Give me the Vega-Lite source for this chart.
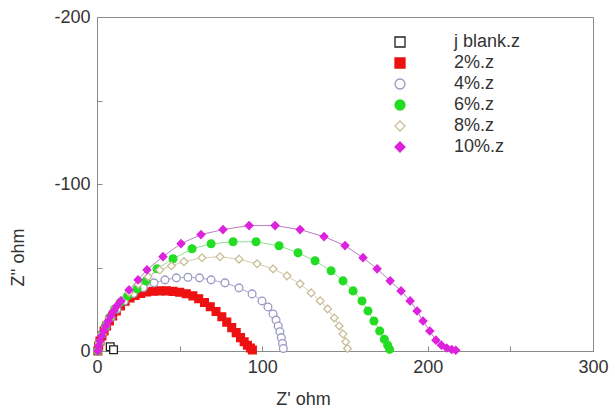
{
  "$schema": "https://vega.github.io/schema/vega-lite/v6.json",
  "autosize": "none",
  "width": 496,
  "height": 334,
  "padding": {"left": 97, "top": 17, "right": 22, "bottom": 63},
  "background": "white",
  "config": {
    "font": "Liberation Sans",
    "view": {"stroke": "#8a8a8a", "strokeWidth": 1}
  },
  "data": {
    "values": [
      {"s": "j blank.z", "x": 8, "y": -2.5},
      {"s": "j blank.z", "x": 10, "y": -0.8},

      {"s": "2%.z", "x": 0.5, "y": 0},
      {"s": "2%.z", "x": 1, "y": -3},
      {"s": "2%.z", "x": 1.8, "y": -6},
      {"s": "2%.z", "x": 3, "y": -9},
      {"s": "2%.z", "x": 4.3, "y": -12},
      {"s": "2%.z", "x": 5.8, "y": -15},
      {"s": "2%.z", "x": 7.5, "y": -18},
      {"s": "2%.z", "x": 9.5, "y": -21},
      {"s": "2%.z", "x": 11.7, "y": -24},
      {"s": "2%.z", "x": 14.2, "y": -27},
      {"s": "2%.z", "x": 17, "y": -29.8},
      {"s": "2%.z", "x": 20, "y": -31.8},
      {"s": "2%.z", "x": 23, "y": -33.3},
      {"s": "2%.z", "x": 26.5, "y": -34.5},
      {"s": "2%.z", "x": 30, "y": -35.3},
      {"s": "2%.z", "x": 34, "y": -35.8},
      {"s": "2%.z", "x": 38, "y": -36},
      {"s": "2%.z", "x": 42, "y": -36},
      {"s": "2%.z", "x": 46, "y": -35.7},
      {"s": "2%.z", "x": 50, "y": -35.2},
      {"s": "2%.z", "x": 54, "y": -34.3},
      {"s": "2%.z", "x": 58, "y": -33},
      {"s": "2%.z", "x": 61.5, "y": -31.3},
      {"s": "2%.z", "x": 65, "y": -29},
      {"s": "2%.z", "x": 68.5, "y": -26.5},
      {"s": "2%.z", "x": 72, "y": -23.6},
      {"s": "2%.z", "x": 75.5, "y": -20.5},
      {"s": "2%.z", "x": 78.5, "y": -17.3},
      {"s": "2%.z", "x": 81.5, "y": -14},
      {"s": "2%.z", "x": 84.2, "y": -11},
      {"s": "2%.z", "x": 86.8, "y": -8},
      {"s": "2%.z", "x": 89, "y": -5.5},
      {"s": "2%.z", "x": 91, "y": -3.5},
      {"s": "2%.z", "x": 92.8, "y": -1.8},
      {"s": "2%.z", "x": 94, "y": -0.6},

      {"s": "4%.z", "x": 0.5, "y": 0},
      {"s": "4%.z", "x": 1.5, "y": -5},
      {"s": "4%.z", "x": 3, "y": -10},
      {"s": "4%.z", "x": 5.5, "y": -15},
      {"s": "4%.z", "x": 8.5, "y": -20},
      {"s": "4%.z", "x": 12, "y": -25},
      {"s": "4%.z", "x": 16.5, "y": -30},
      {"s": "4%.z", "x": 22, "y": -34.5},
      {"s": "4%.z", "x": 28, "y": -38},
      {"s": "4%.z", "x": 34.5, "y": -40.8},
      {"s": "4%.z", "x": 41.1, "y": -42.6},
      {"s": "4%.z", "x": 48, "y": -43.8},
      {"s": "4%.z", "x": 55, "y": -44.2},
      {"s": "4%.z", "x": 62, "y": -43.8},
      {"s": "4%.z", "x": 69, "y": -42.6},
      {"s": "4%.z", "x": 77.4, "y": -40.8},
      {"s": "4%.z", "x": 85.9, "y": -37.8},
      {"s": "4%.z", "x": 93.8, "y": -34.2},
      {"s": "4%.z", "x": 99.8, "y": -30},
      {"s": "4%.z", "x": 103.4, "y": -26.4},
      {"s": "4%.z", "x": 106.5, "y": -22.2},
      {"s": "4%.z", "x": 108.3, "y": -18.5},
      {"s": "4%.z", "x": 109.6, "y": -15},
      {"s": "4%.z", "x": 110.6, "y": -11.5},
      {"s": "4%.z", "x": 111.5, "y": -8},
      {"s": "4%.z", "x": 112.2, "y": -4.5},
      {"s": "4%.z", "x": 112.7, "y": -1.5},

      {"s": "6%.z", "x": 0.5, "y": 0},
      {"s": "6%.z", "x": 1.5, "y": -5},
      {"s": "6%.z", "x": 3, "y": -10},
      {"s": "6%.z", "x": 5, "y": -15},
      {"s": "6%.z", "x": 7.5, "y": -20},
      {"s": "6%.z", "x": 10.5, "y": -25},
      {"s": "6%.z", "x": 14, "y": -29},
      {"s": "6%.z", "x": 18.5, "y": -33},
      {"s": "6%.z", "x": 24.2, "y": -37.2},
      {"s": "6%.z", "x": 29.6, "y": -42},
      {"s": "6%.z", "x": 36.3, "y": -49.2},
      {"s": "6%.z", "x": 46, "y": -55.2},
      {"s": "6%.z", "x": 57.5, "y": -61.2},
      {"s": "6%.z", "x": 69, "y": -64.2},
      {"s": "6%.z", "x": 82.3, "y": -65.4},
      {"s": "6%.z", "x": 96.2, "y": -65.4},
      {"s": "6%.z", "x": 110.1, "y": -63},
      {"s": "6%.z", "x": 121.6, "y": -58.8},
      {"s": "6%.z", "x": 131.9, "y": -54},
      {"s": "6%.z", "x": 141.6, "y": -48},
      {"s": "6%.z", "x": 148.8, "y": -42},
      {"s": "6%.z", "x": 154.9, "y": -36},
      {"s": "6%.z", "x": 160.3, "y": -30},
      {"s": "6%.z", "x": 163.9, "y": -24},
      {"s": "6%.z", "x": 167.5, "y": -18},
      {"s": "6%.z", "x": 171, "y": -12},
      {"s": "6%.z", "x": 173.8, "y": -7},
      {"s": "6%.z", "x": 175.8, "y": -3.5},
      {"s": "6%.z", "x": 177, "y": -1},

      {"s": "8%.z", "x": 0.5, "y": 0},
      {"s": "8%.z", "x": 1.5, "y": -5},
      {"s": "8%.z", "x": 3, "y": -10},
      {"s": "8%.z", "x": 5, "y": -15},
      {"s": "8%.z", "x": 7.5, "y": -20},
      {"s": "8%.z", "x": 10.5, "y": -25},
      {"s": "8%.z", "x": 14.5, "y": -30},
      {"s": "8%.z", "x": 19.5, "y": -35},
      {"s": "8%.z", "x": 25, "y": -40},
      {"s": "8%.z", "x": 31, "y": -44.5},
      {"s": "8%.z", "x": 38, "y": -48.5},
      {"s": "8%.z", "x": 45, "y": -51},
      {"s": "8%.z", "x": 52.6, "y": -53.5},
      {"s": "8%.z", "x": 63.5, "y": -55.8},
      {"s": "8%.z", "x": 74.4, "y": -56.4},
      {"s": "8%.z", "x": 85.9, "y": -55},
      {"s": "8%.z", "x": 96.8, "y": -52.2},
      {"s": "8%.z", "x": 106.5, "y": -49.2},
      {"s": "8%.z", "x": 114.9, "y": -45},
      {"s": "8%.z", "x": 122.8, "y": -40.2},
      {"s": "8%.z", "x": 129.5, "y": -34.8},
      {"s": "8%.z", "x": 135, "y": -30},
      {"s": "8%.z", "x": 139.5, "y": -25.2},
      {"s": "8%.z", "x": 143.5, "y": -19.8},
      {"s": "8%.z", "x": 146.5, "y": -15},
      {"s": "8%.z", "x": 148.8, "y": -10.2},
      {"s": "8%.z", "x": 150.4, "y": -5.5},
      {"s": "8%.z", "x": 151.5, "y": -1.5},

      {"s": "10%.z", "x": 0.5, "y": 0},
      {"s": "10%.z", "x": 1, "y": -3},
      {"s": "10%.z", "x": 1.8, "y": -6},
      {"s": "10%.z", "x": 2.8, "y": -9},
      {"s": "10%.z", "x": 4, "y": -12},
      {"s": "10%.z", "x": 5.3, "y": -15},
      {"s": "10%.z", "x": 6.8, "y": -18},
      {"s": "10%.z", "x": 8.3, "y": -21},
      {"s": "10%.z", "x": 10, "y": -24},
      {"s": "10%.z", "x": 12, "y": -27},
      {"s": "10%.z", "x": 14.5, "y": -30},
      {"s": "10%.z", "x": 19.4, "y": -36.6},
      {"s": "10%.z", "x": 24.8, "y": -42.6},
      {"s": "10%.z", "x": 30.2, "y": -48.6},
      {"s": "10%.z", "x": 39.9, "y": -56.5},
      {"s": "10%.z", "x": 50.8, "y": -64.3},
      {"s": "10%.z", "x": 62.9, "y": -69.7},
      {"s": "10%.z", "x": 76.2, "y": -72.7},
      {"s": "10%.z", "x": 92, "y": -75.1},
      {"s": "10%.z", "x": 107.7, "y": -75.1},
      {"s": "10%.z", "x": 122.8, "y": -72.7},
      {"s": "10%.z", "x": 137.3, "y": -68.5},
      {"s": "10%.z", "x": 150, "y": -63.1},
      {"s": "10%.z", "x": 160.9, "y": -55.9},
      {"s": "10%.z", "x": 169.4, "y": -49.2},
      {"s": "10%.z", "x": 177.3, "y": -42},
      {"s": "10%.z", "x": 183.9, "y": -36},
      {"s": "10%.z", "x": 189.4, "y": -30},
      {"s": "10%.z", "x": 193.6, "y": -24},
      {"s": "10%.z", "x": 197.2, "y": -18},
      {"s": "10%.z", "x": 201.3, "y": -12},
      {"s": "10%.z", "x": 205, "y": -6.5},
      {"s": "10%.z", "x": 208.3, "y": -3.5},
      {"s": "10%.z", "x": 211.5, "y": -1.8},
      {"s": "10%.z", "x": 214.5, "y": -0.9},
      {"s": "10%.z", "x": 217, "y": -0.4}
    ]
  },
  "layer": [
    {
      "mark": {"type": "line", "strokeWidth": 1},
      "encoding": {
        "x": {"field": "x", "type": "quantitative"},
        "y": {"field": "y", "type": "quantitative"},
        "color": {
          "field": "s", "type": "nominal",
          "scale": {
            "domain": ["10%.z", "8%.z", "6%.z", "4%.z", "2%.z", "j blank.z"],
            "range": ["#b87cc0", "#d4ccac", "#8ee08e", "#a8a8cc", "#e05858", "#c8a8b0"]
          },
          "legend": null
        }
      }
    },
    {
      "mark": {"type": "point", "filled": true, "size": 60, "strokeWidth": 1.3, "opacity": 1},
      "encoding": {
        "x": {
          "field": "x", "type": "quantitative",
          "scale": {"domain": [0, 300], "nice": false, "zero": false},
          "axis": {
            "title": "Z' ohm",
            "values": [0, 50, 100, 150, 200, 250, 300],
            "labelExpr": "datum.value % 100 == 0 ? '' + datum.value : ''",
            "labelFlush": false,
            "labelOverlap": false,
            "grid": false,
            "tickSize": -5,
            "labelPadding": 12,
            "labelFontSize": 18,
            "labelColor": "#333333",
            "titleFontSize": 18,
            "titleFontWeight": "normal",
            "titleColor": "#333333",
            "titleX": 206,
            "titleY": 57,
            "titleAlign": "center",
            "titleBaseline": "bottom",
            "domainColor": "#8a8a8a",
            "tickColor": "#8a8a8a"
          }
        },
        "y": {
          "field": "y", "type": "quantitative",
          "scale": {"domain": [0, -200], "nice": false, "zero": false},
          "axis": {
            "title": "Z'' ohm",
            "values": [-200, -150, -100, -50, 0],
            "labelExpr": "datum.value % 100 == 0 ? '' + datum.value : ''",
            "labelFlush": false,
            "labelOverlap": false,
            "grid": false,
            "tickSize": -5,
            "labelPadding": 12,
            "labelFontSize": 18,
            "labelColor": "#333333",
            "titleFontSize": 18,
            "titleFontWeight": "normal",
            "titleColor": "#333333",
            "titleX": -79,
            "titleY": 240,
            "titleAngle": 270,
            "titleAlign": "center",
            "titleBaseline": "middle",
            "domainColor": "#8a8a8a",
            "tickColor": "#8a8a8a"
          }
        },
        "shape": {
          "field": "s", "type": "nominal",
          "scale": {
            "domain": ["j blank.z", "2%.z", "4%.z", "6%.z", "8%.z", "10%.z"],
            "range": ["square", "square", "circle", "circle", "diamond", "diamond"]
          },
          "legend": {
            "title": null, "orient": "none", "legendX": 268, "legendY": 16, "padding": 0,
            "symbolSize": 100, "symbolOffset": 26, "labelOffset": 45, "labelFontSize": 18,
            "labelColor": "#333333", "rowPadding": 3, "symbolStrokeWidth": 1.3,
            "encode": {
              "symbols": {
                "shape": {"value": {"expr": "datum.value == 'j blank.z' || datum.value == '2%.z' ? 'M-6,0H-1M1,0H6M-1,-1H1V1H-1Z' : (datum.value == '4%.z' || datum.value == '6%.z') ? 'M-6,0H-1M1,0H6M-1,0A1,1,0,1,0,1,0A1,1,0,1,0,-1,0Z' : 'M-6,0H-1M1,0H6M-1,0L0,-1L1,0L0,1Z'"}}
              }
            }
          }
        },
        "fill": {
          "field": "s", "type": "nominal",
          "scale": {
            "domain": ["j blank.z", "2%.z", "4%.z", "6%.z", "8%.z", "10%.z"],
            "range": ["#ffffff", "#ee1111", "#ffffff", "#22dd22", "#ffffff", "#dd22dd"]
          }
        },
        "stroke": {
          "field": "s", "type": "nominal",
          "scale": {
            "domain": ["j blank.z", "2%.z", "4%.z", "6%.z", "8%.z", "10%.z"],
            "range": ["#222222", "#ee1111", "#9a9ac4", "#22dd22", "#c8bf98", "#dd22dd"]
          }
        }
      }
    }
  ]
}
